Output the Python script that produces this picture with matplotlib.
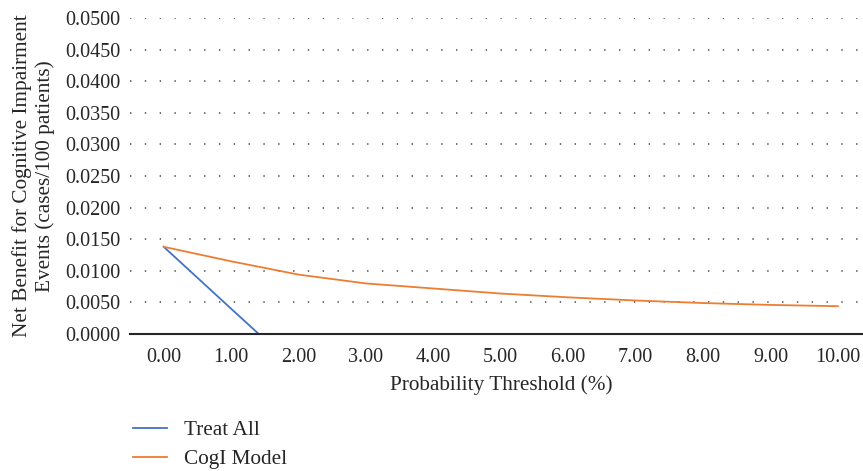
import matplotlib
matplotlib.use("Agg")
import matplotlib.pyplot as plt

# Data
threshold_model = [0, 1, 2, 3, 4, 5, 6, 7, 8, 9, 10]
cogi_model = [0.0138, 0.0115, 0.0094, 0.0080, 0.0072, 0.0064, 0.0058, 0.0053, 0.0049, 0.0046, 0.0044]
threshold_all = [0, 0.5, 1.0, 1.41]
treat_all = [0.0138, 0.0089, 0.0040, 0.0]
x_ticks = [0, 1, 2, 3, 4, 5, 6, 7, 8, 9, 10]
x_tick_labels = ["0.00", "1.00", "2.00", "3.00", "4.00", "5.00", "6.00", "7.00", "8.00", "9.00", "10.00"]
y_ticks = [0.0, 0.005, 0.01, 0.015, 0.02, 0.025, 0.03, 0.035, 0.04, 0.045, 0.05]

plt.rcParams['font.family'] = ['Liberation Serif', 'DejaVu Serif']
W, H = 863, 471
fig = plt.figure(figsize=(W / 100, H / 100), dpi=100)
left, right, top, bottom = 130, 871.6, 18, 334
ax = fig.add_axes([left / W, 1 - bottom / H, (right - left) / W, (bottom - top) / H])

ax.plot(threshold_all, treat_all, color="#4472C4", lw=1.3, label="Treat All")
ax.plot(threshold_model, cogi_model, color="#ED7D31", lw=1.3, label="CogI Model")

FS = 14.5
FL = 15.3
ax.set_xlim(-0.5, 10.5)
ax.set_ylim(0, 0.05)
ax.set_xticks(x_ticks)
ax.set_xticklabels(x_tick_labels)
ax.set_yticks(y_ticks)
ax.set_yticklabels([f"{v:.4f}" for v in y_ticks])
ax.tick_params(length=0, labelsize=FS, colors="#262626", pad=7)
ax.tick_params(axis='x', pad=10)
for s in ["top", "right", "left"]:
    ax.spines[s].set_visible(False)
ax.spines["bottom"].set_color("#262626")
ax.spines["bottom"].set_linewidth(1.5)
ax.set_axisbelow(True)
ax.yaxis.grid(True, color="#444444", linewidth=1.1, linestyle=(0, (0.9, 8.8)))

ax.set_xlabel("Probability Threshold (%)", fontsize=FL, color="#262626", labelpad=6)
ax.set_ylabel("Net Benefit for Cognitive Impairment\nEvents (cases/100 patients)", fontsize=FL,
              color="#262626", labelpad=7, linespacing=1.25)

fig.legend(loc="upper left", bbox_to_anchor=(114 / W, 1 - 401 / H), frameon=False,
           fontsize=FL, handlelength=1.6, handletextpad=0.8, labelspacing=0.45,
           labelcolor="#262626")

fig.savefig("out.png", dpi=100)
